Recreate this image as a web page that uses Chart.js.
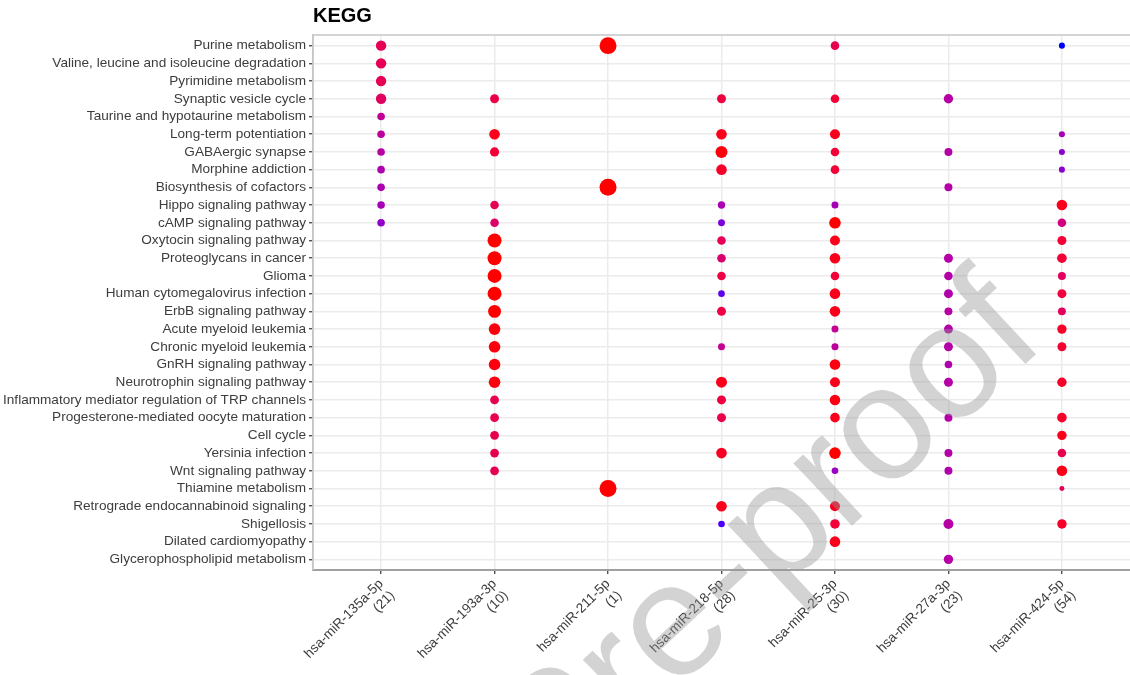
<!DOCTYPE html>
<html lang="en">
<head>
    <meta charset="UTF-8">
    <title>KEGG dot plot</title>
    <script src="https://cdn.jsdelivr.net/npm/chart.js"></script>
    <style>
        body { margin: 0; background: #fff; }
        canvas { display: block; }
    </style>
</head>
<body>
    <canvas id="keggChart" width="1130" height="675"></canvas>

    <script>
        // pathways, top to bottom
        const pathways = [
            "Purine metabolism",
            "Valine, leucine and isoleucine degradation",
            "Pyrimidine metabolism",
            "Synaptic vesicle cycle",
            "Taurine and hypotaurine metabolism",
            "Long-term potentiation",
            "GABAergic synapse",
            "Morphine addiction",
            "Biosynthesis of cofactors",
            "Hippo signaling pathway",
            "cAMP signaling pathway",
            "Oxytocin signaling pathway",
            "Proteoglycans in cancer",
            "Glioma",
            "Human cytomegalovirus infection",
            "ErbB signaling pathway",
            "Acute myeloid leukemia",
            "Chronic myeloid leukemia",
            "GnRH signaling pathway",
            "Neurotrophin signaling pathway",
            "Inflammatory mediator regulation of TRP channels",
            "Progesterone-mediated oocyte maturation",
            "Cell cycle",
            "Yersinia infection",
            "Wnt signaling pathway",
            "Thiamine metabolism",
            "Retrograde endocannabinoid signaling",
            "Shigellosis",
            "Dilated cardiomyopathy",
            "Glycerophospholipid metabolism"
        ];

        const mirnas = ["hsa-miR-135a-5p", "hsa-miR-193a-3p", "hsa-miR-211-5p", "hsa-miR-218-5p",
                        "hsa-miR-25-3p", "hsa-miR-27a-3p", "hsa-miR-424-5p"];
        const mirCounts = [21, 10, 1, 28, 30, 23, 54];

        // per miRNA: pathway row, gene ratio (dot size), significance 0..1 (blue -> red)
        const rows135a  = [0, 1, 2, 3, 4, 5, 6, 7, 8, 9, 10];
        const ratio135a = [0.188, 0.188, 0.188, 0.188, 0.10, 0.10, 0.10, 0.10, 0.10, 0.10, 0.10];
        const sig135a   = [0.72, 0.72, 0.72, 0.68, 0.45, 0.42, 0.38, 0.34, 0.33, 0.30, 0.22];

        const rows193a  = [3, 5, 6, 9, 10, 11, 12, 13, 14, 15, 16, 17, 18, 19, 20, 21, 22, 23, 24];
        const ratio193a = [0.14, 0.195, 0.147, 0.128, 0.128, 0.34, 0.34, 0.34, 0.34, 0.29,
                           0.234, 0.234, 0.234, 0.234, 0.134, 0.134, 0.134, 0.134, 0.134];
        const sig193a   = [0.78, 0.95, 0.85, 0.72, 0.65, 1, 1, 1, 1, 1,
                           0.98, 0.98, 0.98, 0.98, 0.75, 0.75, 0.75, 0.75, 0.72];

        const rows211  = [0, 8, 25];
        const ratio211 = [0.5, 0.5, 0.5];
        const sig211   = [1, 1, 1];

        const rows218  = [3, 5, 6, 7, 9, 10, 11, 12, 13, 14, 15, 17, 19, 20, 21, 23, 26, 27];
        const ratio218 = [0.14, 0.195, 0.25, 0.195, 0.095, 0.085, 0.128, 0.128, 0.128, 0.076,
                          0.14, 0.085, 0.21, 0.14, 0.14, 0.195, 0.195, 0.076];
        const sig218   = [0.82, 0.95, 0.98, 0.9, 0.32, 0.15, 0.72, 0.62, 0.8, 0.08,
                          0.8, 0.45, 0.95, 0.82, 0.78, 0.92, 0.95, 0.05];

        const rows25  = [0, 3, 5, 6, 7, 9, 10, 11, 12, 13, 14, 15, 16, 17, 18, 19, 20, 21, 23, 24, 26, 27, 28];
        const ratio25 = [0.128, 0.128, 0.174, 0.128, 0.128, 0.085, 0.234, 0.174, 0.195, 0.128, 0.195, 0.195,
                         0.085, 0.085, 0.195, 0.174, 0.195, 0.16, 0.234, 0.076, 0.174, 0.16, 0.195];
        const sig25   = [0.75, 0.85, 0.95, 0.85, 0.85, 0.3, 1, 0.95, 0.95, 0.85, 0.95, 0.95,
                         0.45, 0.42, 0.97, 0.95, 0.97, 0.95, 1, 0.25, 0.93, 0.85, 0.95];

        const rows27a  = [3, 6, 8, 12, 13, 14, 15, 16, 17, 18, 19, 21, 23, 24, 27, 29];
        const ratio27a = [0.153, 0.11, 0.11, 0.14, 0.128, 0.14, 0.11, 0.14, 0.14, 0.10, 0.14, 0.11,
                          0.11, 0.11, 0.174, 0.153];
        const sig27a   = [0.38, 0.37, 0.37, 0.37, 0.37, 0.35, 0.38, 0.37, 0.37, 0.34, 0.37, 0.37,
                          0.37, 0.34, 0.37, 0.37];

        const rows424  = [0, 5, 6, 7, 9, 10, 11, 12, 13, 14, 15, 16, 17, 19, 21, 22, 23, 24, 25, 27];
        const ratio424 = [0.063, 0.063, 0.063, 0.063, 0.195, 0.128, 0.14, 0.16, 0.11, 0.14,
                          0.11, 0.153, 0.14, 0.153, 0.16, 0.153, 0.128, 0.195, 0.043, 0.153];
        const sig424   = [0.0, 0.3, 0.2, 0.2, 0.95, 0.55, 0.85, 0.85, 0.7, 0.82,
                          0.7, 0.9, 0.88, 0.9, 0.9, 0.95, 0.75, 0.95, 0.7, 0.9];

        const allRows  = [rows135a, rows193a, rows211, rows218, rows25, rows27a, rows424];
        const allRatio = [ratio135a, ratio193a, ratio211, ratio218, ratio25, ratio27a, ratio424];
        const allSig   = [sig135a, sig193a, sig211, sig218, sig25, sig27a, sig424];

        // blue -> red gradient in Lab space, like ggplot's scale_colour_gradient
        function toLin(c) { c /= 255; return c <= 0.04045 ? c / 12.92 : Math.pow((c + 0.055) / 1.055, 2.4); }
        function toSrgb(c) {
            c = c <= 0.0031308 ? 12.92 * c : 1.055 * Math.pow(c, 1 / 2.4) - 0.055;
            return Math.round(Math.max(0, Math.min(1, c)) * 255);
        }
        function rgbToLab(rgb) {
            const r = toLin(rgb[0]), g = toLin(rgb[1]), b = toLin(rgb[2]);
            const X = (0.4124 * r + 0.3576 * g + 0.1805 * b) / 0.95047;
            const Y = (0.2126 * r + 0.7152 * g + 0.0722 * b);
            const Z = (0.0193 * r + 0.1192 * g + 0.9505 * b) / 1.08883;
            const f = t => t > 0.008856 ? Math.cbrt(t) : 7.787 * t + 16 / 116;
            return [116 * f(Y) - 16, 500 * (f(X) - f(Y)), 200 * (f(Y) - f(Z))];
        }
        function labToRgb(lab) {
            const fy = (lab[0] + 16) / 116, fx = fy + lab[1] / 500, fz = fy - lab[2] / 200;
            const inv = t => t > 0.206893 ? t * t * t : (t - 16 / 116) / 7.787;
            const X = inv(fx) * 0.95047, Y = inv(fy), Z = inv(fz) * 1.08883;
            const r = 3.2406 * X - 1.5372 * Y - 0.4986 * Z;
            const g = -0.9689 * X + 1.8758 * Y + 0.0415 * Z;
            const b = 0.0557 * X - 0.2040 * Y + 1.0570 * Z;
            return "rgb(" + toSrgb(r) + "," + toSrgb(g) + "," + toSrgb(b) + ")";
        }
        const labLow = rgbToLab([0, 0, 255]);
        const labHigh = rgbToLab([255, 0, 0]);
        function sigColor(t) {
            return labToRgb(labLow.map((v, i) => v + (labHigh[i] - v) * t));
        }
        function ratioRadius(v) { return 12 * Math.sqrt(v); }

        const datasets = mirnas.map((m, k) => ({
            label: m,
            data: allRows[k].map((row, i) => ({ x: k + 1, y: row, r: ratioRadius(allRatio[k][i]) })),
            backgroundColor: allSig[k].map(sigColor),
            borderWidth: 0
        }));

        const labelFont = { family: "'Liberation Sans', Arial, Helvetica, sans-serif", size: 13.6 };

        // panel border + title
        const panelPlugin = {
            id: "panel",
            beforeDatasetsDraw(chart) {
                const { ctx, chartArea: a } = chart;
                ctx.save();
                ctx.strokeStyle = "#c6c6c6";
                ctx.lineWidth = 1.5;
                ctx.strokeRect(a.left, a.top, a.right - a.left + 4, a.bottom - a.top);
                ctx.restore();
            },
            afterDraw(chart) {
                const { ctx, chartArea: a } = chart;
                ctx.save();
                ctx.fillStyle = "#000";
                ctx.font = "bold 20px 'Liberation Sans', Arial, sans-serif";
                ctx.textAlign = "left";
                ctx.textBaseline = "alphabetic";
                ctx.fillText("KEGG", a.left, 22);
                ctx.restore();
            }
        };

        // journal watermark
        const watermarkPlugin = {
            id: "watermark",
            afterDraw(chart) {
                const ctx = chart.ctx;
                ctx.save();
                ctx.translate(1048, 343);
                ctx.rotate(-43 * Math.PI / 180);
                ctx.font = "162px 'Liberation Sans', Arial, sans-serif";
                ctx.fillStyle = "rgba(150,150,150,0.42)";
                ctx.textAlign = "right";
                ctx.textBaseline = "alphabetic";
                ctx.fillText("Journal Pre-proof", 0, 0);
                ctx.restore();
            }
        };

        new Chart(document.getElementById("keggChart"), {
            type: "bubble",
            data: { datasets: datasets },
            options: {
                responsive: false,
                animation: false,
                layout: { autoPadding: false, padding: { top: 35, left: 0, right: -2, bottom: 0 } },
                plugins: {
                    legend: { display: false },
                    tooltip: { enabled: false },
                    title: { display: false }
                },
                scales: {
                    x: {
                        type: "linear",
                        min: 0.4,
                        max: 7.6,
                        afterBuildTicks: s => { s.ticks = mirnas.map((_, i) => ({ value: i + 1 })); },
                        afterFit: s => { s.height = 105; s.paddingLeft = 0; s.paddingRight = 0; },
                        ticks: {
                            autoSkip: false,
                            maxRotation: 45,
                            minRotation: 45,
                            padding: 2,
                            color: "#3d3d3d",
                            font: labelFont,
                            callback: v => [mirnas[v - 1], "(" + mirCounts[v - 1] + ")"]
                        },
                        grid: { color: "#ebebeb", lineWidth: 1.5, tickColor: "#333", tickLength: 4, tickWidth: 1.2 },
                        border: { color: "#333", width: 2 }
                    },
                    y: {
                        type: "linear",
                        reverse: true,
                        min: -0.6,
                        max: 29.6,
                        afterBuildTicks: s => { s.ticks = pathways.map((_, i) => ({ value: i })); },
                        afterFit: s => { s.width = 313; s.paddingTop = 0; s.paddingBottom = 0; },
                        ticks: {
                            autoSkip: false,
                            padding: 3,
                            color: "#3d3d3d",
                            font: labelFont,
                            callback: v => pathways[v]
                        },
                        grid: { color: "#ebebeb", lineWidth: 1.5, tickColor: "#333", tickLength: 4, tickWidth: 1.2 },
                        border: { color: "#c6c6c6", width: 1.5 }
                    }
                }
            },
            plugins: [panelPlugin, watermarkPlugin]
        });
    </script>
</body>
</html>
